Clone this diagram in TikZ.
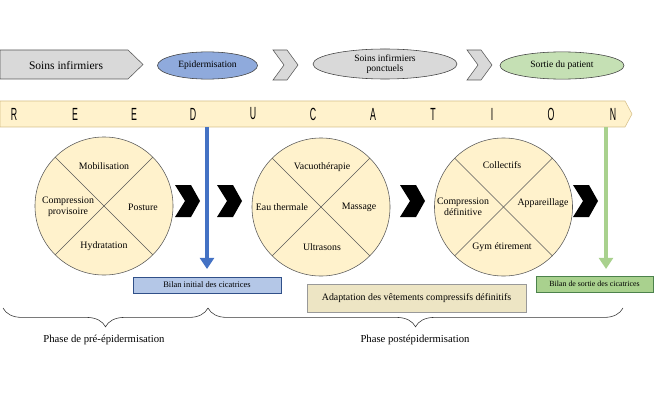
\documentclass[tikz,border=0pt]{standalone}
\usepackage{fontspec}
\setmainfont{Liberation Serif}
\newfontfamily\reedfont[FakeStretch=0.5]{Liberation Sans}
\usetikzlibrary{arrows.meta}
\usetikzlibrary{shapes.geometric}
\usetikzlibrary{decorations.pathreplacing}
\definecolor{grisclair}{HTML}{D9D9D9}
\definecolor{grisfonce}{HTML}{595959}
\definecolor{bleuovale}{HTML}{8FAADC}
\definecolor{bleufleche}{HTML}{4472C4}
\definecolor{bleupale}{HTML}{B4C7E7}
\definecolor{vertpale}{HTML}{C5E0B4}
\definecolor{vertfleche}{HTML}{A9D18E}
\definecolor{jaunepale}{HTML}{FFF2CC}
\definecolor{bordjaune}{HTML}{D6C08A}
\definecolor{kaki}{HTML}{EDE5C4}

\begin{document}
\begin{tikzpicture}[x=0.025cm,y=-0.025cm,
  ovale/.style={ellipse,draw,inner sep=0pt,align=center,font=\fontsize{6.8}{7.6}\selectfont},
  disque/.style={circle,draw=grisfonce,fill=jaunepale,minimum size=3.45cm,inner sep=0pt},
  quart/.style={align=center,font=\fontsize{7}{8}\selectfont},
  bilan/.style={draw,minimum height=0.4cm,inner sep=0pt},
  lettre/.style={font=\reedfont\fontsize{12.5}{13}\selectfont}]
\useasboundingbox (0,0) rectangle (655,400);

% bandeau du haut
\draw [grisfonce,fill=grisclair] (0,50) -- (128,50) -- (143,64.5) -- (128,79) -- (0,79) -- cycle;
\node (v1) at (66,65) {\fontsize{8.2}{9}\selectfont Soins infirmiers};

\node[ovale,fill=bleuovale,draw=black!75,minimum width=2.5cm,minimum height=0.68cm] (v2) at (207.5,65.5) {Epidermisation};

\draw [grisfonce,fill=grisclair] (273,50) -- (287,50) -- (298,65) -- (287,80) -- (273,80) -- (284,65) -- cycle;

\node[ovale,fill=grisclair,draw=black!75,minimum width=3.6cm,minimum height=0.75cm] (v3) at (385,64) {Soins infirmiers\\ponctuels};

\draw [grisfonce,fill=grisclair] (467,50) -- (481,50) -- (492,65) -- (481,80) -- (467,80) -- (478,65) -- cycle;

\node[ovale,fill=vertpale,draw=black!75,minimum width=3.1cm,minimum height=0.68cm] (v4) at (562,65.5) {Sortie du patient};

% REEDUCATION
\draw [bordjaune,fill=jaunepale] (0,101) -- (625,101) -- (632,114) -- (625,127) -- (0,127) -- cycle;
\node[lettre] (r1) at (14,114) {R};
\node[lettre] (r2) at (75,114) {E};
\node[lettre] (r3) at (134,114) {E};
\node[lettre] (r4) at (193,114) {D};
\node[lettre] (r5) at (253,114) {U};
\node[lettre] (r6) at (313,114) {C};
\node[lettre] (r7) at (373,114) {A};
\node[lettre] (r8) at (433,114) {T};
\node[lettre] (r9) at (492,114) {I};
\node[lettre] (r10) at (551,114) {O};
\node[lettre] (r11) at (613,114) {N};

% cercles
\node[disque] (v5) at (104,206) {};
\draw [grisfonce] (v5.135) -- (v5.-45);
\draw [grisfonce] (v5.45) -- (v5.225);
\node[quart] (v6) at (104,166) {Mobilisation};
\node[quart] (v7) at (68,207) {Compression\\provisoire};
\node[quart] (v8) at (143,207) {Posture};
\node[quart] (v9) at (104,246) {Hydratation};

\node[disque] (v10) at (321,207) {};
\draw [grisfonce] (v10.135) -- (v10.-45);
\draw [grisfonce] (v10.45) -- (v10.225);
\node[quart] (v11) at (322,167) {Vacuothérapie};
\node[quart] (v12) at (282,207) {Eau thermale};
\node[quart] (v13) at (359,207) {Massage};
\node[quart] (v14) at (322,247) {Ultrasons};

\node[disque] (v15) at (503.5,207) {};
\draw [grisfonce] (v15.135) -- (v15.-45);
\draw [grisfonce] (v15.45) -- (v15.225);
\node[quart] (v16) at (502,165) {Collectifs};
\node[quart] (v17) at (463,207) {Compression\\définitive};
\node[quart] (v18) at (543,203) {Appareillage};
\node[quart] (v19) at (502,247) {Gym étirement};

% chevrons noirs
\fill (175,185) -- (191,185) -- (200,201) -- (191,217) -- (175,217) -- (185,201) -- cycle;
\fill (217,185) -- (233,185) -- (242,201) -- (233,217) -- (217,217) -- (227,201) -- cycle;
\fill (400,185) -- (416,185) -- (425,201) -- (416,217) -- (400,217) -- (410,201) -- cycle;
\fill (573,185) -- (589,185) -- (598,201) -- (589,217) -- (573,217) -- (583,201) -- cycle;

% bilans
\coordinate (v20) at (207,127);
\coordinate (v21) at (207,269);
\draw [bleufleche,line width=3pt,-{Triangle[width=10pt,length=8pt]}] (v20) -- (v21);
\node[bilan,fill=bleupale,draw=bleufleche!70!black,minimum width=3.7cm,font=\fontsize{6}{7}\selectfont] (v22) at (207,285) {Bilan initial des cicatrices};

\coordinate (v23) at (606,127);
\coordinate (v24) at (606,269);
\draw [vertfleche,line width=3pt,-{Triangle[width=10pt,length=8pt]}] (v23) -- (v24);
\node[bilan,fill=vertfleche,draw=green!30!black!70,minimum width=2.93cm,font=\fontsize{5.6}{6.5}\selectfont] (v25) at (594.5,284) {Bilan de sortie des cicatrices};

\node[bilan,fill=kaki,draw=black!40,minimum width=5.48cm,minimum height=0.7cm,font=\fontsize{7}{8}\selectfont] (v26) at (416.5,298) {Adaptation des vêtements compressifs définitifs};

% phases
\coordinate (v27) at (3,308);
\coordinate (v28) at (208,308);
\coordinate (v29) at (623,308);
\draw [black!80,decorate,decoration={brace,amplitude=0.47cm}] (v28) -- (v27);
\draw [black!80,decorate,decoration={brace,amplitude=0.47cm}] (v29) -- (v28);
\node[font=\fontsize{7.6}{9}\selectfont] (v30) at (104,340) {Phase de pré-épidermisation};
\node[font=\fontsize{7.6}{9}\selectfont] (v31) at (415,340) {Phase postépidermisation};
\end{tikzpicture}
\end{document}
